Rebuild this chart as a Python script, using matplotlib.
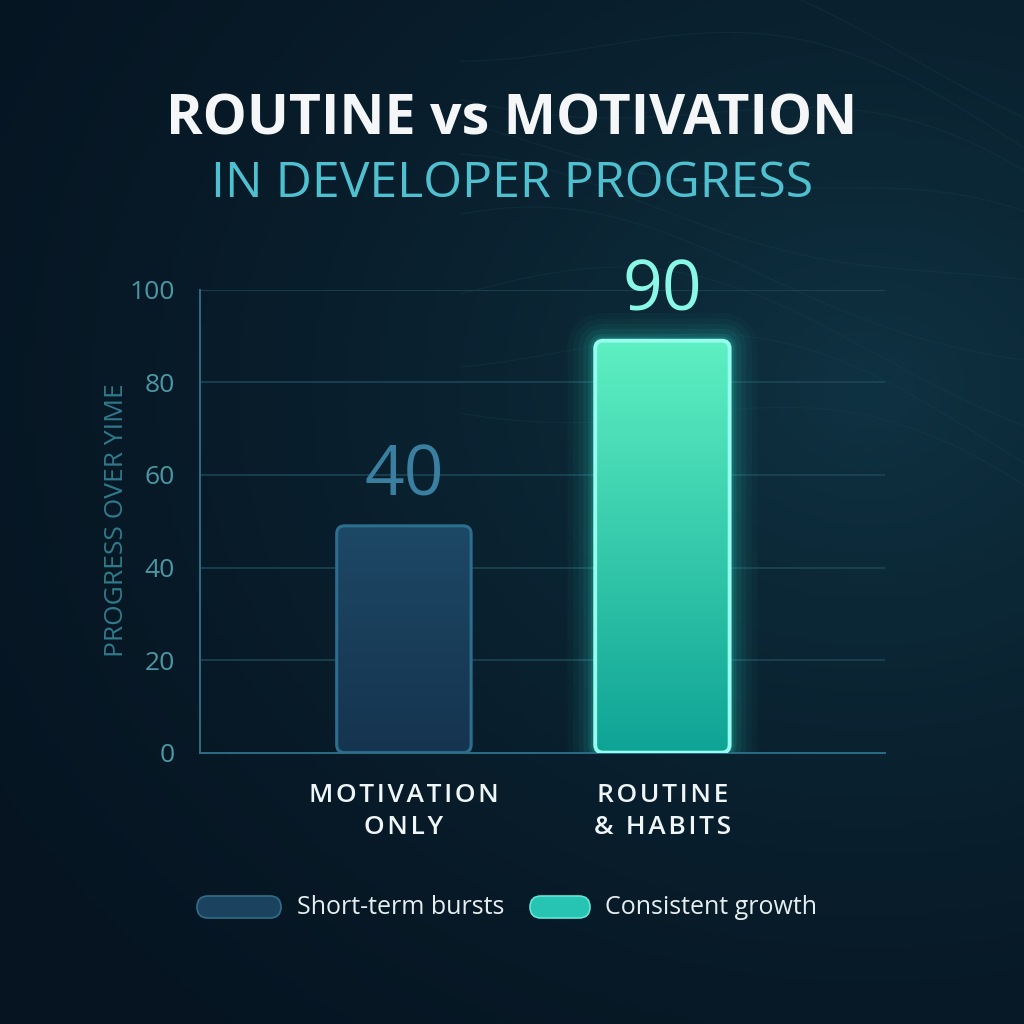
import numpy as np
import matplotlib.pyplot as plt
from matplotlib.patches import FancyBboxPatch
from matplotlib.colors import LinearSegmentedColormap, to_rgb

# chart data
categories = ["MOTIVATION\nONLY", "ROUTINE\n& HABITS"]
bar_heights = [49, 89]
value_labels = ["40", "90"]
y_ticks = [0, 20, 40, 60, 80, 100]
legend_labels = ["Short-term bursts", "Consistent growth"]

bar_tops = ["#1d4866", "#5ef0c2"]
bar_bottoms = ["#15344f", "#0ea395"]
bar_edges = ["#2c6e8e", "#95fcef"]
value_colors = ["#3a7f9f", "#8af8e6"]
legend_colors = ["#1b425f", "#27c4b4"]


def spaced(text, gap="\u200a"):
    return "\n".join(gap.join(line) for line in text.split("\n"))


fig = plt.figure(figsize=(10.24, 10.24), dpi=100)

# background gradient
bg = fig.add_axes([0, 0, 1, 1], zorder=-10)
yy, xx = np.mgrid[0:1:300j, 0:1:300j]
dist = np.hypot((xx - 0.85) * 1.0, (yy - 0.38) * 1.2)
t = np.clip(1 - dist / 1.1, 0, 1) ** 1.6
c0 = np.array(to_rgb("#061421"))
c1 = np.array(to_rgb("#0f3242"))
img = c0 + (c1 - c0) * t[..., None]
bg.imshow(img, extent=[0, 1, 0, 1], aspect="auto", origin="upper")
for k in range(9):
    xs = np.linspace(0.45, 1.0, 200)
    ys = 0.62 + 0.05 * k - 0.35 * (xs - 0.45) ** 2 + 0.03 * np.sin(xs * 9 + k)
    bg.plot(xs, ys, color="#1d4a5a", lw=0.8, alpha=0.25)
bg.set_xlim(0, 1)
bg.set_ylim(0, 1)
bg.axis("off")

ax = fig.add_axes([0.195, 0.265, 0.669, 0.452])
ax.set_facecolor("none")

x = np.arange(len(categories))
width = 0.52
ax.set_xlim(-0.79, 1.86)
ax.set_ylim(0, 100)

bars = ax.bar(x, bar_heights, width, color="none", edgecolor="none")

# pixel aspect for rounded corners
p0 = ax.transData.transform((0, 0))
px_x = ax.transData.transform((1, 0))[0] - p0[0]
px_y = ax.transData.transform((0, 1))[1] - p0[1]
aspect = px_x / px_y
rnd = 8 / px_x

for i, rect in enumerate(bars):
    x0, y0 = rect.get_x(), rect.get_y()
    w, h = rect.get_width(), rect.get_height()
    if i == 1:
        # glow
        for lw, a in [(40, 0.03), (32, 0.04), (24, 0.05), (17, 0.07), (10, 0.1), (6, 0.12)]:
            glow = FancyBboxPatch((x0, y0), w, h,
                                  boxstyle=f"round,pad=0,rounding_size={rnd}",
                                  mutation_aspect=aspect, facecolor="none",
                                  edgecolor="#2ee8d2", lw=lw, alpha=a, zorder=1)
            ax.add_patch(glow)
    shape = FancyBboxPatch((x0, y0), w, h,
                           boxstyle=f"round,pad=0,rounding_size={rnd}",
                           mutation_aspect=aspect, facecolor="none",
                           edgecolor=bar_edges[i], lw=2.2 if i == 0 else 2.8, zorder=4)
    ax.add_patch(shape)
    cmap = LinearSegmentedColormap.from_list("g", [bar_bottoms[i], bar_tops[i]])
    grad = np.linspace(0, 1, 256).reshape(-1, 1)
    im = ax.imshow(grad, extent=[x0, x0 + w, y0, y0 + h], origin="lower",
                   aspect="auto", cmap=cmap, zorder=3)
    im.set_clip_path(shape)
    ax.text(rect.get_x() + w / 2, h + 10.5, value_labels[i], ha="center", va="center",
            fontsize=50, color=value_colors[i], family="Open Sans",
            weight="normal" if i == 0 else "medium", zorder=5)

ax.set_xlim(-0.79, 1.86)
ax.set_ylim(0, 100)

ax.set_yticks(y_ticks)
ax.set_yticklabels([str(v) for v in y_ticks], fontsize=19, color="#4b97a4",
                   family="Open Sans")
ax.tick_params(axis="y", length=0, pad=18)
ax.set_xticks(x)
ax.set_xticklabels([spaced(c) for c in categories], fontsize=19, color="#eef6f7",
                   family=["Open Sans", "DejaVu Sans"], weight="semibold",
                   linespacing=1.38)
ax.tick_params(axis="x", length=0, pad=22)
ax.grid(axis="y", color="#1e4858", lw=1.2, alpha=0.9)
ax.set_axisbelow(True)
for side in ["top", "right"]:
    ax.spines[side].set_visible(False)
ax.spines["left"].set_color("#2a6d84")
ax.spines["bottom"].set_color("#2a6d84")
ax.spines["left"].set_linewidth(1.4)
ax.spines["bottom"].set_linewidth(1.4)

fig.text(117 / 1024, 1 - 520 / 1024, "PROGRESS OVER YIME", rotation=90,
         ha="center", va="center", fontsize=19, color="#2f7b8b", family="Open Sans")

# titles
fig.text(0.5, 1 - 120 / 1024, "ROUTINE vs MOTIVATION", ha="center", va="center",
         fontsize=40, weight="bold", color="#f4f6f7", family="Open Sans")
fig.text(0.5, 1 - 184 / 1024, "IN DEVELOPER PROGRESS", ha="center", va="center",
         fontsize=36, color="#4fc0cf", family="Open Sans")

# legend
leg_y = 1 - 907 / 1024
leg_items = [(197, 281, 297), (530, 590, 605)]
for (xa, xb, xt), col, lab in zip(leg_items, legend_colors, legend_labels):
    h = 22 / 1024
    patch = FancyBboxPatch((xa / 1024, leg_y - h / 2), (xb - xa) / 1024, h,
                           boxstyle=f"round,pad=0,rounding_size={h / 2}",
                           transform=fig.transFigure, facecolor=col,
                           edgecolor="#2f6f8a" if col == legend_colors[0] else "#5fe8d8",
                           lw=1.2)
    fig.patches.append(patch)
    fig.text(xt / 1024, leg_y, lab, ha="left", va="center", fontsize=18,
             color="#e6eef0", family="Open Sans")

fig.savefig("out.png", dpi=100, facecolor="#07182a")
